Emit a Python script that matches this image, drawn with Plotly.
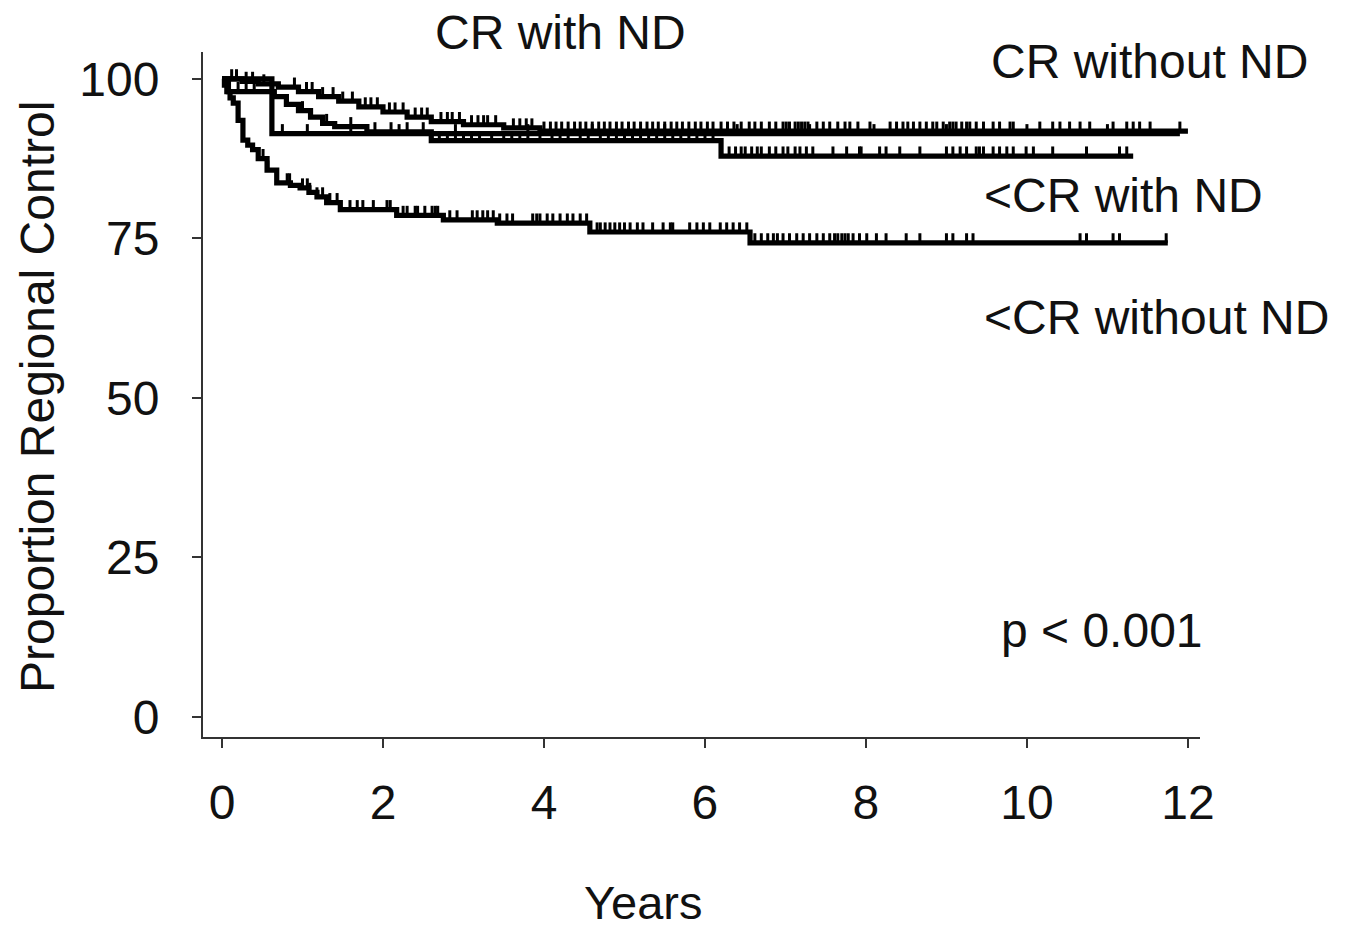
import numpy as np
import plotly.graph_objects as go

# ---------------- data ----------------
x_ticks = [0, 2, 4, 6, 8, 10, 12]
y_ticks = [0, 25, 50, 75, 100]

# CR without ND
cr_no_nd_t = [0, 0.25, 0.45, 0.7, 0.95, 1.2, 1.45, 1.7, 2.0, 2.3, 2.6, 3.0, 3.5, 3.95]
cr_no_nd_v = [100, 99.6, 99.2, 98.7, 98.0, 97.2, 96.5, 95.6, 94.8, 94.0, 93.3, 92.8, 92.3, 91.8]
cr_no_nd_end = 12.0
cr_no_nd_cens = [0.12, 0.18, 0.3, 0.38, 0.52, 0.9, 1.05, 1.12, 1.25, 1.38, 1.5, 1.62, 1.78,
                 1.85, 1.93, 2.08, 2.15, 2.25, 2.4, 2.48, 2.55, 2.72, 2.8, 2.86, 2.95, 3.1,
                 3.18, 3.25, 3.3, 3.4, 3.62, 3.7, 3.78, 3.85, 4.0, 4.08, 4.15, 4.22, 4.3,
                 4.38, 4.45, 4.52, 4.6, 4.68, 4.75, 4.82, 4.9, 4.97, 5.05, 5.12, 5.2, 5.28,
                 5.35, 5.42, 5.5, 5.58, 5.65, 5.72, 5.8, 5.88, 5.95, 6.03, 6.1, 6.2, 6.28,
                 6.36, 6.45, 6.55, 6.62, 6.7, 6.8, 6.88,
                 6.97, 7.01, 7.05, 7.12, 7.16, 7.2, 7.24, 7.28, 7.39, 7.47, 7.55, 7.65,
                 7.74, 7.8, 7.9, 8.05, 8.3, 8.38, 8.46, 8.52, 8.59, 8.67, 8.75, 8.83, 8.88,
                 8.96, 9.04, 9.08, 9.12, 9.19, 9.25, 9.29, 9.37, 9.46, 9.58, 9.66, 9.79,
                 9.83, 10.16, 10.32, 10.41, 10.53, 10.66, 10.78, 11.07, 11.24, 11.32, 11.4,
                 11.53, 11.9]

# CR with ND
cr_nd_t = [0, 0.62]
cr_nd_v = [100, 91.4]
cr_nd_end = 11.9
cr_nd_cens = [0.75, 1.06, 1.6, 2.2, 2.9, 3.8, 4.6, 5.5, 6.4, 7.3, 8.1, 9.0, 10.0, 11.0]

# <CR with ND
lt_cr_nd_t = [0, 0.08, 0.65, 0.8, 0.95, 1.1, 1.25, 1.4, 1.8, 2.6, 6.2]
lt_cr_nd_v = [100, 98.0, 97.2, 96.0, 95.0, 94.0, 93.0, 92.5, 91.7, 90.3, 87.9]
lt_cr_nd_end = 11.32
lt_cr_nd_cens = [0.2, 0.3, 0.4, 1.0, 1.3, 1.6, 1.9, 2.1, 2.3, 2.5, 2.7, 2.8, 2.9, 3.0, 3.1,
                 3.2, 3.35, 3.5, 3.6, 3.7, 3.8, 3.95, 4.1, 4.2, 4.3, 4.45, 4.55, 4.7, 4.8,
                 4.9, 5.0, 5.1, 5.2, 5.3, 5.4, 5.5, 5.6, 5.7, 5.8, 5.9, 6.0, 6.1,
                 6.3, 6.38, 6.45, 6.5, 6.58, 6.65, 6.7, 6.8, 6.88,
                 6.97, 7.03, 7.12, 7.18, 7.26, 7.34, 7.59, 7.76, 7.92, 7.94, 8.17, 8.25,
                 8.42, 8.67, 9.0, 9.08, 9.17, 9.25, 9.37, 9.41, 9.46, 9.58, 9.66, 9.75,
                 9.83, 9.99, 10.08, 10.32, 10.74, 11.15, 11.24]

# <CR without ND
lt_cr_no_nd_t = [0, 0.03, 0.06, 0.1, 0.14, 0.2, 0.26, 0.32, 0.38, 0.45, 0.56, 0.68, 0.85,
                 0.97, 1.08, 1.18, 1.3, 1.47, 2.17, 2.75, 3.42, 4.57, 6.56]
lt_cr_no_nd_v = [100, 99.0, 98.0, 97.0, 96.2, 93.5, 90.4, 89.6, 88.9, 87.5, 85.7, 83.7,
                 83.3, 82.9, 82.2, 81.5, 80.6, 79.5, 78.6, 77.9, 77.4, 76.0, 74.3]
lt_cr_no_nd_end = 11.75
lt_cr_no_nd_cens = [0.51, 0.57, 0.81, 0.84, 1.0, 1.06, 1.09, 1.18, 1.25, 1.34, 1.43, 1.59,
                    1.68, 1.75, 1.88, 2.05, 2.09, 2.25, 2.3, 2.4, 2.43, 2.52, 2.61, 2.65,
                    2.68, 2.83, 2.92, 3.11, 3.17, 3.24, 3.3, 3.37, 3.45, 3.54, 3.61, 3.86,
                    3.91, 3.95, 4.04, 4.11, 4.2, 4.29, 4.36, 4.45, 4.53, 4.66, 4.7, 4.76,
                    4.82, 4.88, 4.94, 5.0, 5.07, 5.16, 5.23, 5.35, 5.48, 5.57, 5.6, 5.81,
                    5.9, 5.98, 6.06, 6.19, 6.27, 6.35, 6.43, 6.52, 6.62, 6.7, 6.78, 6.85,
                    6.9, 6.97, 7.05, 7.14, 7.22, 7.3, 7.39, 7.47, 7.55, 7.61, 7.65, 7.7,
                    7.74, 7.78, 7.84, 7.92, 8.01, 8.13, 8.25, 8.5, 8.67, 9.0, 9.08, 9.25,
                    9.33, 10.66, 10.74, 11.07, 11.15, 11.73]

labels = ["CR with ND", "CR without ND", "<CR with ND", "<CR without ND"]
p_text = "p < 0.001"

# ---------------- figure ----------------
FONT = "Liberation Sans, Arial, sans-serif"
INK = "#111111"
TICK_H = 1.5

fig = go.Figure()

def add_km(t, v, end, cens):
    t = list(t); v = list(v)
    fig.add_trace(go.Scatter(x=t + [end], y=v + [v[-1]], mode="lines",
                             line=dict(color="black", width=5.2, shape="hv"),
                             showlegend=False, hoverinfo="skip"))
    ta = np.array(t); va = np.array(v)
    xs, ys = [], []
    for c in cens:
        idx = np.searchsorted(ta, c, side="right") - 1
        lvl = va[max(idx, 0)]
        xs += [c, c, None]
        ys += [lvl, lvl + TICK_H, None]
    fig.add_trace(go.Scatter(x=xs, y=ys, mode="lines",
                             line=dict(color="black", width=3),
                             showlegend=False, hoverinfo="skip"))

add_km(lt_cr_no_nd_t, lt_cr_no_nd_v, lt_cr_no_nd_end, lt_cr_no_nd_cens)
add_km(lt_cr_nd_t, lt_cr_nd_v, lt_cr_nd_end, lt_cr_nd_cens)
add_km(cr_nd_t, cr_nd_v, cr_nd_end, cr_nd_cens)
add_km(cr_no_nd_t, cr_no_nd_v, cr_no_nd_end, cr_no_nd_cens)

W, H = 1351, 928
ml, mr, mt, mb = 203, 151, 52, 191

def px(xp, yp):
    # convert page pixel to paper coords
    return (xp - ml) / (W - ml - mr), (H - mb - yp) / (H - mt - mb)

ann = []
for text, (xp, yp), anc in [
    (labels[0], (560, 33), "center"),
    (labels[1], (1310, 62), "right"),
    (labels[2], (982, 195), "left"),
    (labels[3], (982, 317), "left"),
    (p_text, (1205, 630), "right"),
]:
    xx, yy = px(xp, yp)
    ann.append(dict(x=xx, y=yy, xref="paper", yref="paper", text=text, showarrow=False,
                    xanchor=anc, yanchor="middle",
                    font=dict(family=FONT, size=48, color=INK)))

xx, yy = px(643, 902)
ann.append(dict(x=xx, y=yy, xref="paper", yref="paper", text="Years", showarrow=False,
                xanchor="center", yanchor="middle", font=dict(family=FONT, size=47, color=INK)))
xx, yy = px(38, 397)
ann.append(dict(x=xx, y=yy, xref="paper", yref="paper", text="Proportion Regional Control",
                showarrow=False, textangle=-90, xanchor="center", yanchor="middle",
                font=dict(family=FONT, size=48, color=INK)))

fig.update_layout(
    width=W, height=H,
    margin=dict(l=ml, r=mr, t=mt, b=mb, pad=0),
    paper_bgcolor="white", plot_bgcolor="white",
    showlegend=False,
    annotations=ann,
    xaxis=dict(range=[-0.236, 12.15], tickvals=x_ticks, ticktext=[str(v) for v in x_ticks],
               showgrid=False, zeroline=False, showline=True, linecolor="#333", linewidth=2,
               ticks="outside", ticklen=9, tickwidth=2, tickcolor="#333",
               ticklabelstandoff=13,
               tickfont=dict(family=FONT, size=48, color=INK)),
    yaxis=dict(range=[-3.13, 104.2], tickvals=y_ticks, ticktext=[str(v) for v in y_ticks],
               showgrid=False, zeroline=False, showline=True, linecolor="#333", linewidth=2,
               ticks="outside", ticklen=9, tickwidth=2, tickcolor="#333",
               ticklabelstandoff=23,
               tickfont=dict(family=FONT, size=48, color=INK)),
)

fig.write_html("out.html")
